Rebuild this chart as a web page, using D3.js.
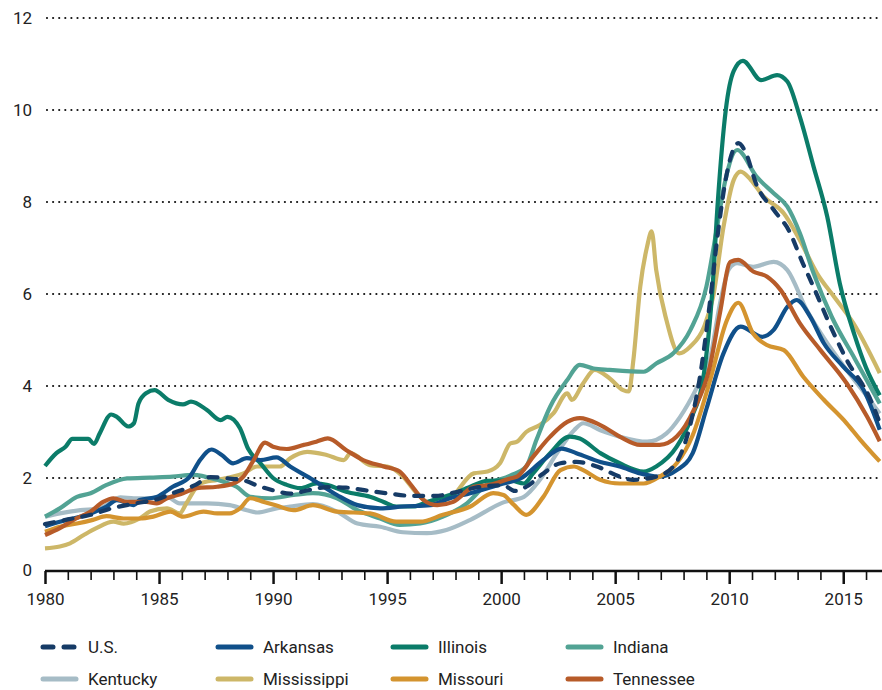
<!DOCTYPE html>
<html>
<head>
<meta charset="utf-8">
<script src="https://cdn.jsdelivr.net/npm/d3@7"></script>
<style>
  body { margin: 0; background: #fff; }
  svg { font-family: Roboto, "Liberation Sans", sans-serif; }
</style>
</head>
<body>
<div id="chart"></div>
<script>
// [year, value] pairs
const usData = [[1980,1.0],[1981,1.1],[1982,1.2],[1983,1.35],[1984,1.45],[1985,1.55],[1985.6,1.67],[1986.6,1.85],[1987.25,2.02],[1988,1.99],[1988.7,1.95],[1989.4,1.82],[1990.1,1.72],[1990.75,1.66],[1991.6,1.74],[1992.4,1.8],[1993.2,1.79],[1994.2,1.72],[1995.1,1.66],[1996.1,1.61],[1997.1,1.61],[1998,1.69],[1999,1.8],[2000.1,1.84],[2000.6,1.72],[2001.1,1.81],[2001.85,2.1],[2002.6,2.32],[2003.3,2.35],[2004.2,2.25],[2005.2,2.03],[2005.8,1.96],[2006.8,2.03],[2007.55,2.25],[2008.15,2.9],[2008.75,4.3],[2009.15,5.8],[2009.5,7.3],[2009.85,8.5],[2010.15,9.1],[2010.4,9.28],[2010.7,9.1],[2011.2,8.37],[2011.95,7.83],[2012.65,7.35],[2013.2,6.7],[2013.7,6.15],[2014.45,5.29],[2015.15,4.57],[2016.2,3.7],[2016.6,3.2]];

const arkansas = [[1980,0.95],[1980.65,1.05],[1981.25,1.12],[1982,1.23],[1982.7,1.38],[1983.15,1.52],[1983.9,1.41],[1984.15,1.52],[1984.9,1.59],[1985.6,1.81],[1986.35,2.03],[1986.8,2.39],[1987.3,2.62],[1987.75,2.5],[1988.25,2.32],[1988.85,2.43],[1989.45,2.39],[1990.15,2.45],[1990.75,2.25],[1991.75,1.96],[1992.8,1.63],[1993.7,1.41],[1994.7,1.34],[1995.7,1.38],[1996.9,1.41],[1997.75,1.56],[1998.65,1.67],[2000.1,1.88],[2000.85,1.99],[2001.85,2.39],[2002.65,2.64],[2003.3,2.54],[2004.35,2.35],[2005.2,2.25],[2006.1,2.1],[2006.95,2.03],[2007.7,2.17],[2008.4,2.54],[2009.0,3.5],[2009.75,4.71],[2010.5,5.29],[2011.45,5.07],[2011.95,5.22],[2012.55,5.72],[2012.95,5.87],[2013.55,5.51],[2014.15,4.93],[2015,4.42],[2015.9,3.91],[2016.6,3.05]];

const illinois = [[1980,2.26],[1980.5,2.54],[1980.9,2.68],[1981.2,2.85],[1981.9,2.85],[1982.15,2.74],[1982.4,2.97],[1982.9,3.38],[1983.15,3.33],[1983.65,3.12],[1983.9,3.19],[1984.1,3.62],[1984.45,3.85],[1984.8,3.91],[1985.4,3.7],[1986.05,3.6],[1986.4,3.66],[1987.1,3.48],[1987.7,3.26],[1988,3.33],[1988.55,3.08],[1988.9,2.64],[1989.45,2.32],[1990,2.0],[1990.6,1.85],[1991.2,1.78],[1991.9,1.88],[1992.35,1.85],[1993.2,1.7],[1994.25,1.59],[1994.85,1.48],[1995.4,1.38],[1996.15,1.38],[1996.75,1.48],[1997.75,1.63],[1998.65,1.81],[1999.4,1.94],[2000.4,1.95],[2001,1.88],[2001.4,2.1],[2002.15,2.54],[2003,2.9],[2003.45,2.86],[2004.35,2.54],[2005.2,2.32],[2006.25,2.14],[2006.8,2.25],[2007.7,2.68],[2008.3,3.26],[2008.9,4.3],[2009.25,6.0],[2009.5,8.0],[2009.85,10.0],[2010.2,10.85],[2010.6,11.07],[2011.4,10.65],[2012.1,10.76],[2012.55,10.62],[2013.1,9.85],[2013.7,8.77],[2014.3,7.68],[2014.85,6.23],[2015.5,5.1],[2016,4.4],[2016.6,3.8]];

const indiana = [[1980,1.16],[1980.65,1.34],[1981.4,1.59],[1982,1.67],[1982.7,1.85],[1983.6,1.99],[1984.6,2.01],[1985.6,2.03],[1986.5,2.07],[1987.55,1.96],[1988.4,1.81],[1989,1.59],[1989.85,1.56],[1990.9,1.63],[1991.75,1.67],[1992.8,1.56],[1993.7,1.3],[1994.7,1.12],[1995.55,0.98],[1996.45,1.01],[1997.45,1.16],[1998.5,1.45],[1999.35,1.85],[2000.4,2.05],[2001.1,2.25],[2001.55,2.83],[2002.15,3.55],[2002.9,4.13],[2003.45,4.46],[2004.05,4.38],[2004.75,4.35],[2006.25,4.31],[2006.8,4.49],[2007.55,4.71],[2008.3,5.22],[2009,6.16],[2009.45,7.4],[2009.8,8.4],[2010.35,9.13],[2011.2,8.55],[2011.95,8.19],[2012.55,7.9],[2013.1,7.32],[2013.7,6.45],[2014.5,5.5],[2015.5,4.6],[2016.6,3.62]];

const kentucky = [[1980,1.16],[1980.65,1.23],[1981.55,1.3],[1982.4,1.34],[1983.3,1.58],[1983.9,1.56],[1984.6,1.56],[1985.35,1.59],[1985.9,1.45],[1987.1,1.45],[1988.1,1.41],[1988.85,1.3],[1989.3,1.25],[1990.15,1.34],[1990.75,1.38],[1991.75,1.43],[1992.8,1.27],[1993.7,1.01],[1994.7,0.94],[1995.7,0.82],[1996.75,0.8],[1997.6,0.87],[1998.65,1.09],[2000.1,1.47],[2001,1.59],[2001.7,1.96],[2002.45,2.54],[2003.2,3.04],[2003.6,3.19],[2004.35,3.04],[2005.2,2.9],[2006.4,2.79],[2007.25,2.97],[2007.85,3.33],[2008.6,3.98],[2009.15,4.57],[2009.6,5.8],[2010.0,6.55],[2010.35,6.67],[2011.05,6.59],[2011.95,6.7],[2012.55,6.52],[2013.4,5.65],[2014.3,4.93],[2015.15,4.35],[2016.05,3.77],[2016.6,3.4]];

const mississippi = [[1980,0.47],[1980.65,0.51],[1981.1,0.58],[1981.7,0.76],[1982.25,0.91],[1983,1.05],[1983.45,1.01],[1984.15,1.12],[1984.6,1.27],[1985.35,1.34],[1985.9,1.23],[1986.2,1.45],[1986.8,1.88],[1987.55,1.96],[1988.25,2.03],[1988.7,2.1],[1989.3,2.25],[1990.3,2.25],[1990.75,2.43],[1991.5,2.57],[1992.35,2.5],[1993.1,2.39],[1993.4,2.54],[1994.25,2.28],[1995,2.25],[1995.7,2.03],[1996.3,1.67],[1996.9,1.45],[1997.75,1.56],[1998.8,2.1],[1999.4,2.14],[1999.95,2.32],[2000.4,2.75],[2000.7,2.79],[2001.1,3.0],[2001.7,3.15],[2002.3,3.41],[2002.9,3.84],[2003.1,3.7],[2003.6,4.06],[2004.1,4.35],[2004.75,4.17],[2005.35,3.91],[2005.6,3.88],[2005.8,4.57],[2006.1,6.16],[2006.4,7.03],[2006.6,7.36],[2006.8,6.52],[2007.25,5.43],[2007.8,4.71],[2008.3,4.86],[2008.9,5.29],[2009.3,5.95],[2009.75,7.46],[2010.2,8.48],[2010.5,8.66],[2010.95,8.48],[2011.5,8.12],[2012.4,7.75],[2013.1,7.17],[2013.85,6.45],[2014.6,5.94],[2015.45,5.36],[2016.6,4.28]];

const missouri = [[1980,0.83],[1980.65,0.94],[1981.4,1.01],[1982.1,1.09],[1982.7,1.17],[1983.45,1.12],[1984.15,1.12],[1984.75,1.16],[1985.5,1.27],[1986.05,1.16],[1986.95,1.27],[1987.55,1.23],[1988.1,1.23],[1988.55,1.34],[1989,1.56],[1989.6,1.48],[1990.15,1.4],[1990.9,1.3],[1991.75,1.41],[1992.8,1.27],[1994.25,1.23],[1995.4,1.05],[1996.45,1.05],[1997.45,1.2],[1998.65,1.38],[1999.65,1.67],[2000.1,1.63],[2000.55,1.42],[2001.1,1.2],[2001.85,1.59],[2002.6,2.17],[2003.2,2.25],[2003.6,2.17],[2004.35,1.96],[2005.2,1.88],[2006.25,1.88],[2006.95,2.03],[2007.7,2.32],[2008.4,2.93],[2009.15,4.1],[2009.9,5.43],[2010.4,5.81],[2011.05,5.14],[2011.65,4.89],[2012.4,4.78],[2013.25,4.2],[2014.15,3.7],[2015.15,3.19],[2015.75,2.83],[2016.6,2.36]];

const tennessee = [[1980,0.76],[1980.65,0.91],[1981.25,1.09],[1982,1.27],[1982.55,1.48],[1983,1.56],[1983.6,1.48],[1984.45,1.48],[1984.9,1.45],[1985.35,1.56],[1986.05,1.67],[1986.65,1.78],[1987.55,1.81],[1988.25,1.88],[1988.7,2.03],[1989.15,2.39],[1989.65,2.77],[1990,2.68],[1990.6,2.63],[1991.35,2.72],[1991.9,2.79],[1992.4,2.86],[1993.2,2.61],[1993.95,2.39],[1994.85,2.25],[1995.55,2.14],[1996,1.88],[1996.6,1.52],[1997.2,1.41],[1997.9,1.48],[1998.8,1.81],[1999.5,1.85],[2000.4,1.99],[2000.7,2.03],[2001.4,2.46],[2002.15,2.9],[2002.9,3.22],[2003.45,3.3],[2004.35,3.15],[2005.2,2.9],[2006.1,2.72],[2006.95,2.72],[2007.7,2.9],[2008.45,3.48],[2009.15,4.42],[2009.6,5.6],[2010.05,6.7],[2010.4,6.74],[2011.05,6.49],[2011.65,6.38],[2012.25,6.09],[2013.1,5.36],[2014,4.78],[2015.15,4.06],[2016.05,3.33],[2016.6,2.8]];

const seriesNames = ['U.S.', 'Arkansas', 'Illinois', 'Indiana', 'Kentucky', 'Mississippi', 'Missouri', 'Tennessee'];
const seriesColors = ['#163b66', '#10508a', '#0b7c69', '#52a394', '#a6bcc6', '#cdb768', '#d4942f', '#b75b29'];
const seriesValues = [usData, arkansas, illinois, indiana, kentucky, mississippi, missouri, tennessee];

const yTicks = [0, 2, 4, 6, 8, 10, 12];
const xMajorTicks = [1980, 1985, 1990, 1995, 2000, 2005, 2010, 2015];
const xMinorTicks = [1981, 1982, 1983, 1984, 1986, 1987, 1988, 1989, 1991, 1992, 1993, 1994, 1996, 1997, 1998, 1999, 2001, 2002, 2003, 2004, 2006, 2007, 2008, 2009, 2011, 2012, 2013, 2014, 2016];

const width = 882, height = 690;
const plot = { left: 45, right: 882, top: 18, bottom: 570 };

const svg = d3.select('#chart').append('svg')
  .attr('width', width)
  .attr('height', height);

const x = d3.scaleLinear().domain([1980, 2016.7]).range([plot.left, plot.right]);
const y = d3.scaleLinear().domain([0, 12]).range([plot.bottom, plot.top]);

// dotted gridlines + y labels
const grid = svg.append('g');
grid.selectAll('line.grid')
  .data(yTicks.filter(d => d > 0))
  .join('line')
  .attr('class', 'grid')
  .attr('x1', plot.left + 2)
  .attr('x2', plot.right)
  .attr('y1', d => y(d))
  .attr('y2', d => y(d))
  .attr('stroke', '#111')
  .attr('stroke-width', 2.2)
  .attr('stroke-linecap', 'round')
  .attr('stroke-dasharray', '0,6.1');

grid.selectAll('text.ylab')
  .data(yTicks)
  .join('text')
  .attr('class', 'ylab')
  .attr('x', 32)
  .attr('y', d => y(d))
  .attr('dy', '0.35em')
  .attr('text-anchor', 'end')
  .style('font-size', '17px')
  .style('fill', '#222')
  .text(d => d);

// x axis
const axisG = svg.append('g').attr('transform', `translate(0,${plot.bottom + 1})`);
axisG.call(d3.axisBottom(x).tickValues(xMajorTicks).tickSize(13).tickFormat(d3.format('d')));
axisG.select('.domain').attr('d', `M${plot.left},0H${plot.right}`).attr('stroke', '#111').attr('stroke-width', 2.5);
axisG.selectAll('.tick line').attr('stroke', '#111').attr('stroke-width', 2.5);
axisG.selectAll('.tick text')
  .attr('y', 22)
  .style('font-size', '17px')
  .style('font-family', 'Roboto, "Liberation Sans", sans-serif')
  .style('fill', '#222');

const minorG = svg.append('g').attr('transform', `translate(0,${plot.bottom + 1})`);
minorG.call(d3.axisBottom(x).tickValues(xMinorTicks).tickSize(9).tickFormat(''));
minorG.select('.domain').remove();
minorG.selectAll('.tick line').attr('stroke', '#111').attr('stroke-width', 1.6);

// lines
const line = d3.line()
  .x(d => x(d[0]))
  .y(d => y(d[1]))
  .curve(d3.curveMonotoneX);

const drawOrder = [4, 5, 3, 2, 1, 6, 7, 0];
const lines = svg.append('g');
drawOrder.forEach(i => {
  lines.append('path')
    .datum(seriesValues[i])
    .attr('d', line)
    .attr('fill', 'none')
    .attr('stroke', seriesColors[i])
    .attr('stroke-width', 4.2)
    .attr('stroke-linejoin', 'round')
    .attr('stroke-linecap', i === 0 ? 'round' : 'butt')
    .attr('stroke-dasharray', i === 0 ? '9,10' : null);
});

// legend
const legendX = [41, 216, 391, 566];
const legendY = [647, 679];
const legend = svg.append('g');
seriesNames.forEach((name, i) => {
  const gx = legendX[i % 4];
  const gy = legendY[Math.floor(i / 4)];
  const item = legend.append('g').attr('transform', `translate(${gx},${gy})`);
  item.append('line')
    .attr('x1', 2).attr('x2', 35)
    .attr('stroke', seriesColors[i])
    .attr('stroke-width', 5)
    .attr('stroke-linecap', 'round')
    .attr('stroke-dasharray', i === 0 ? '10,11' : null);
  item.append('text')
    .attr('x', 47)
    .attr('dy', '0.35em')
    .style('font-size', '17px')
    .style('fill', '#222')
    .text(name);
});
</script>
</body>
</html>
